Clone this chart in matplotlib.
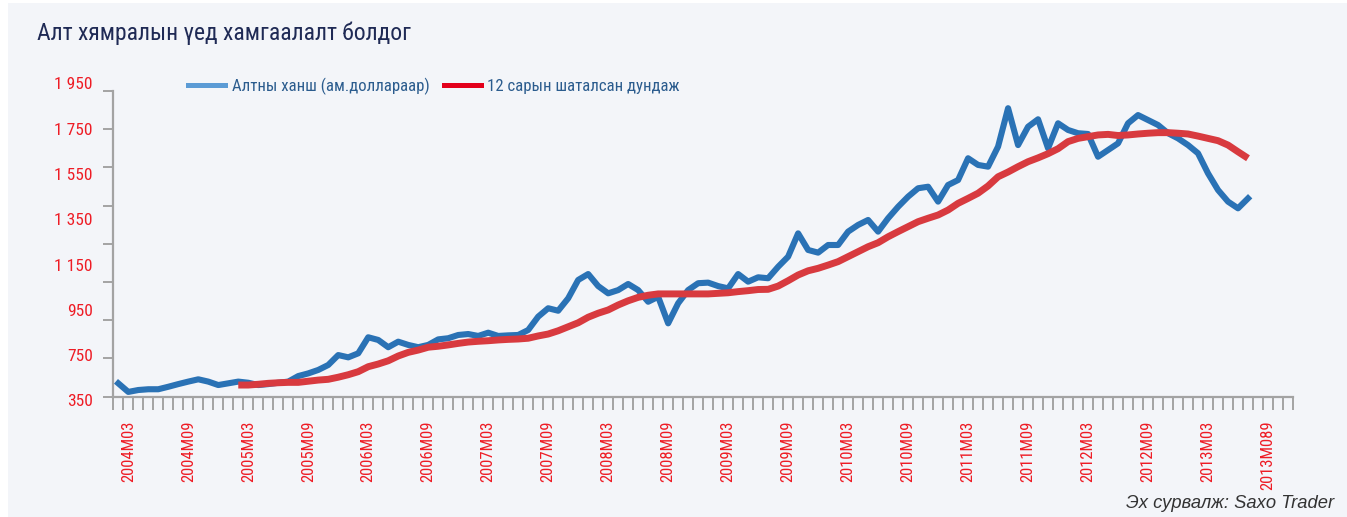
import numpy as np
import matplotlib.pyplot as plt
from matplotlib.lines import Line2D
from matplotlib.patches import Rectangle

# month-end gold price, categories start at 2004M02 (index 0)
gold = [420, 375, 385, 389, 389, 402, 416, 429, 441, 429,
        411, 420, 429, 423, 411, 416, 423, 429, 458, 472,
        490, 516, 568, 556, 577, 661, 647, 609, 638, 621,
        609, 621, 650, 656, 673, 678, 668, 685, 668, 671,
        673, 699, 769, 813, 800, 865, 961, 992, 929, 891,
        908, 940, 908, 847, 873, 734, 839, 908, 944, 947,
        929, 917, 992, 952, 975, 970, 1030, 1083, 1205, 1118,
        1104, 1144, 1144, 1214, 1249, 1275, 1214, 1284, 1344, 1397,
        1441, 1449, 1371, 1458, 1484, 1598, 1563, 1554, 1659, 1860,
        1667, 1763, 1802, 1650, 1781, 1746, 1729, 1725, 1606, 1641,
        1676, 1781, 1824, 1798, 1772, 1729, 1702, 1667, 1624, 1519,
        1432, 1371, 1336, 1388]

# 12 month moving average, begins at index 12
ma_start = 12
ma12 = [411, 411, 415, 420, 423, 425, 425, 431,
        437, 441, 452, 465, 481, 507, 521, 538, 563, 582,
        594, 609, 614, 621, 629, 636, 640, 643, 647, 650,
        652, 656, 668, 678, 695, 716, 737, 766, 787, 804,
        830, 852, 870, 881, 888, 888, 888, 888, 888, 888,
        891, 894, 900, 905, 911, 912, 929, 957, 987, 1009,
        1022, 1039, 1057, 1083, 1109, 1135, 1156, 1187, 1214, 1240,
        1266, 1284, 1301, 1327, 1362, 1388, 1415, 1453, 1501, 1526,
        1554, 1580, 1600, 1622, 1648, 1685, 1702, 1711, 1720, 1723,
        1717, 1720, 1725, 1729, 1732, 1732, 1729, 1725, 1714, 1702,
        1690, 1667, 1632, 1598]

n_cats = 118
x_labels = ["2004M03", "2004M09", "2005M03", "2005M09", "2006M03", "2006M09",
            "2007M03", "2007M09", "2008M03", "2008M09", "2009M03", "2009M09",
            "2010M03", "2010M09", "2011M03", "2011M09", "2012M03", "2012M09",
            "2013M03", "2013M089"]
y_labels = ["350", "750", "950", "1 150", "1 350", "1 550", "1 750", "1 950"]

title = "Алт хямралын үед хамгаалалт болдог"
legend_names = ["Алтны ханш (ам.доллараар)", "12 сарын шаталсан дундаж"]
source = "Эх сурвалж: Saxo Trader"

narrow = ["Roboto Condensed", "PT Sans Narrow", "Fira Sans Condensed", "Liberation Sans", "DejaVu Sans"]
plt.rcParams["font.family"] = narrow

bg = "#F3F5F9"
red_txt = "#EE1C25"
grey = "#A3A3A3"

W, H = 1347, 517
fig = plt.figure(figsize=(W / 100, H / 100), dpi=100, facecolor="white")
fig.patches.append(Rectangle((8 / W, 0), 1, 1 - 3 / H, transform=fig.transFigure,
                             facecolor=bg, edgecolor="none", zorder=-10))

ax_h = 396.7 - 91
ax = fig.add_axes([113.3 / W, (H - 396.7) / H, (1293 - 113.3) / W, ax_h / H])
ax.set_facecolor("none")

x_gold = np.arange(len(gold))
x_ma = np.arange(ma_start, ma_start + len(ma12))
ax.plot(x_gold, gold, color="#2A72B5", lw=4.4, solid_joinstyle="round", zorder=3)
ax.plot(x_ma, ma12, color="#D83A3F", lw=5.0, solid_capstyle="butt", zorder=4)

ax.set_xlim(-0.5, n_cats - 0.5)
ax.set_ylim(350, 1950)

for s in ["top", "right"]:
    ax.spines[s].set_visible(False)
for s in ["left", "bottom"]:
    ax.spines[s].set_color(grey)
    ax.spines[s].set_linewidth(1.6)

# x axis: tick marks between months, labels every 6 months
ax.set_xticks(np.arange(n_cats + 1) - 0.5, minor=True)
ax.set_xticks(np.arange(len(x_labels)) * 6 + 1)
ax.set_xticklabels(x_labels, rotation=90, color=red_txt, fontsize=12, va="top")
ax.tick_params(axis="x", which="minor", direction="out", length=9, width=1.4, color=grey)
ax.tick_params(axis="x", which="major", length=0, pad=17)

# y axis: marks every 200, labels spread evenly (as in the original chart)
ax.set_yticks(np.arange(350, 1951, 200), minor=True)
ax.set_yticks([])
ax.tick_params(axis="y", which="minor", direction="out", length=7.5, width=1.4, color=grey)
label_step = 45.3 / ax_h
for j, lab in enumerate(y_labels):
    ax.text(-20.6 / (1293 - 113.3), -5.3 / ax_h + j * label_step, lab,
            transform=ax.transAxes, ha="right", va="center",
            color=red_txt, fontsize=12.5)

fig.text(37 / W, 1 - 40 / H, title, fontsize=17, color="#1F2A55", va="baseline")

handles = [Line2D([], [], color="#5B9BD5", lw=3.6),
           Line2D([], [], color="#E3001B", lw=3.6)]
leg = fig.legend(handles, legend_names, loc="center left",
                 bbox_to_anchor=(188 / W, 1 - 86 / H), ncol=2, frameon=False,
                 fontsize=12.1, handlelength=2.2, handletextpad=0.4,
                 columnspacing=0.85, borderpad=0, borderaxespad=0)
for t in leg.get_texts():
    t.set_color("#2B5C8E")

fig.text(1334 / W, 1 - 508 / H, source, fontsize=13.2, style="italic", color="#333333",
         ha="right", va="baseline", family=["Liberation Sans", "DejaVu Sans"])

fig.savefig("out.png", dpi=100, facecolor=fig.get_facecolor())
